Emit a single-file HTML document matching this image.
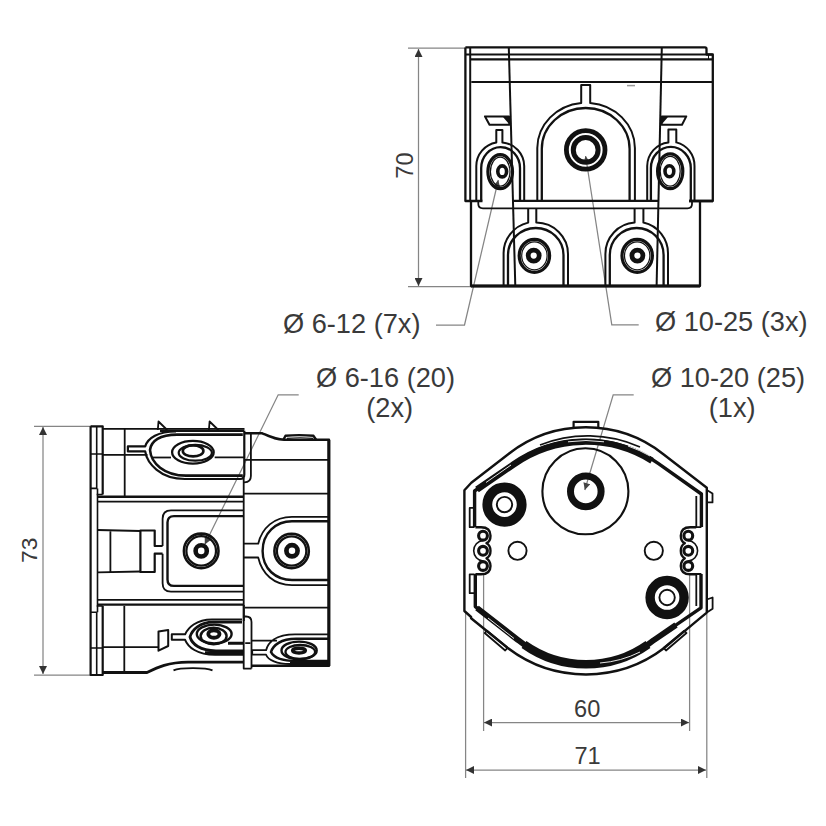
<!DOCTYPE html>
<html><head><meta charset="utf-8">
<style>
html,body{margin:0;padding:0;background:#fff;}
svg{display:block;}
text{font-family:"Liberation Sans",sans-serif;fill:#3a3a3a;}
</style></head><body>
<svg width="826" height="826" viewBox="0 0 826 826">
<defs>
<marker id="ar" viewBox="0 0 10 10" refX="10" refY="5" markerWidth="8" markerHeight="8" orient="auto-start-reverse" markerUnits="userSpaceOnUse"><path d="M0,0 L10,5 L0,10 z" fill="#333"/></marker>
<marker id="la" viewBox="0 0 10 10" refX="10" refY="5" markerWidth="9" markerHeight="7" orient="auto" markerUnits="userSpaceOnUse"><path d="M0,0 L10,5 L0,10 z" fill="#444"/></marker>
</defs>
<!-- dimension lines -->
<g stroke="#858585" stroke-width="1.25" fill="none">
<path d="M408,48H466 M408,286.5H472"/>
<path d="M418.5,49V286" marker-start="url(#ar)" marker-end="url(#ar)"/>
<path d="M34,426.3H92 M34,675H92"/>
<path d="M43,427V674" marker-start="url(#ar)" marker-end="url(#ar)"/>
<path d="M483.6,574V731 M689.6,574V731"/>
<path d="M484,722.6H689" marker-start="url(#ar)" marker-end="url(#ar)"/>
<path d="M465.6,613V778 M706.8,614V778"/>
<path d="M466,770H706" marker-start="url(#ar)" marker-end="url(#ar)"/>
<!-- leaders -->
<path d="M436,325H464.5L498.3,180" marker-end="url(#la)"/>
<path d="M638.7,324.8H611.8L585.6,156" marker-end="url(#la)"/>
<path d="M298.7,394.8H278.2L204.8,544.5" marker-end="url(#la)"/>
<path d="M633.7,394.8H613.2L584.8,490" marker-end="url(#la)"/>
</g>

<g id="topview" fill="none" stroke="#111" stroke-linejoin="round">
 <!-- upper box -->
 <path stroke-width="2.3" d="M465.4,47.4H705 Q706.5,47.4 706.5,49 V54.5 H712.8 V201 H689"/>
 <path stroke-width="2.3" d="M465.4,47.4V201H482.5 M689,201H713"/>
 <path stroke-width="2" d="M470.2,47.5V201"/>
 <path stroke-width="2" d="M465.4,54.5H712.5"/>
 <path stroke-width="2.2" d="M470,59.4H712.5"/>
 <path stroke-width="1" d="M708.5,54.5V59"/>
 <path stroke-width="2" d="M471.3,82H712.5"/>
 <!-- slanted inner walls -->
 <path stroke-width="2" d="M508.8,47.5L515.3,286"/>
 <path stroke-width="2" d="M661.8,47.5L656.6,286"/>
 <!-- band -->
 <path stroke-width="2.3" d="M513.5,200.8H658"/>
 <path stroke-width="1.8" d="M478.3,201.5V204 Q478.3,208.3 483,208.3H687.5 Q692,208.3 692,204 V201"/>
 <!-- lower box -->
 <path stroke-width="2.3" d="M471,201.5V286H700V201"/>
 <path stroke-width="3" d="M471,286H700"/>
 <!-- slots -->
 <path stroke-width="2" d="M485,116.4H509 L509.5,124.7H489.5Z"/>
 <path stroke-width="2" d="M686.3,116.4H661.8 L661.5,124.7H682Z"/>
 <path d="M503,117L509,117L509,124Z" fill="#111" stroke="none"/>
 <path d="M668,117L662,117L662,124Z" fill="#111" stroke="none"/>
 <!-- small arch left -->
 <path stroke-width="2" d="M476.3,200.5V166 A24,24 0 0 1 496.3,142.4 V130 H502.4 V142.4 A24,24 0 0 1 524.2,166 V200.5"/>
 <path stroke-width="2.3" d="M481.2,200.5V168 A19.4,21 0 0 1 520,168 V200.5"/>
 <!-- small arch right -->
 <path stroke-width="2" d="M647.2,200.5V166 A23.6,24 0 0 1 668.4,142.4 V129.5 H676.3 V142.4 A23.6,24 0 0 1 694.5,166 V200.5"/>
 <path stroke-width="2.3" d="M650.9,200.5V168 A19.9,21 0 0 1 690.8,168 V200.5"/>
 <!-- center big arch -->
 <path stroke-width="2" d="M537.3,200.8V148 A48.8,45.5 0 0 1 581.2,102.9 V85.1 H590.2 V102.9 A48.8,45.5 0 0 1 634.9,148 V200.8"/>
 <path stroke-width="2.3" d="M541.8,200.8V149 A43.9,41 0 0 1 629.6,149 V200.8"/>
 <!-- lower arches -->
 <path stroke-width="2" d="M503.6,286V254 A32.2,31.4 0 0 1 528.2,222.6 V208.3 M536.3,208.3 V222.6 A32.2,31.4 0 0 1 568,254 V286"/>
 <path stroke-width="2.3" d="M508,286V255 A27.75,27 0 0 1 563.5,255 V286"/>
 <path stroke-width="2" d="M605.4,286V254 A31.3,31.4 0 0 1 634.6,222.6 V208.3 M643.4,208.3 V222.6 A31.3,31.4 0 0 1 668,254 V286"/>
 <path stroke-width="2.3" d="M609.8,286V255 A26.9,27 0 0 1 663.6,255 V286"/>
 <!-- center hole -->
 <circle cx="585.7" cy="149.9" r="19.3" stroke-width="4.8"/>
 <circle cx="585.7" cy="149.9" r="12.4" stroke-width="5"/>
 <!-- small holes upper -->
 <ellipse cx="500.2" cy="171.7" rx="12.3" ry="17" stroke-width="3.2"/>
 <ellipse cx="500.2" cy="171.7" rx="9.8" ry="14.5" stroke-width="1.2"/>
 <ellipse cx="502.2" cy="171.4" rx="4.4" ry="5.5" stroke-width="3.6"/>
 <ellipse cx="670.2" cy="171.3" rx="12.6" ry="17.4" stroke-width="3.2"/>
 <ellipse cx="670.2" cy="171.3" rx="10" ry="14.9" stroke-width="1.2"/>
 <ellipse cx="669.4" cy="171.3" rx="4.4" ry="5.5" stroke-width="3.6"/>
 <!-- lower holes -->
 <ellipse cx="534.4" cy="255.8" rx="15.2" ry="16.5" stroke-width="3.2"/>
 <ellipse cx="534.4" cy="255.8" rx="12.7" ry="14" stroke-width="1.2"/>
 <circle cx="533.7" cy="255.6" r="5.5" stroke-width="4.8"/>
 <ellipse cx="637.2" cy="255.8" rx="15.2" ry="16.5" stroke-width="3.2"/>
 <ellipse cx="637.2" cy="255.8" rx="12.7" ry="14" stroke-width="1.2"/>
 <circle cx="637.4" cy="255.6" r="5.5" stroke-width="4.8"/>
 <path stroke="#999" stroke-width="1.5" d="M627,85.6H635"/>
</g>

<g id="botview" fill="none" stroke="#111" stroke-linejoin="round">
 <!-- outer contour -->
 <path stroke-width="2.4" d="M464.4,490.2 L471.3,482.8 L508.2,454.2 A125.4,125.4 0 0 1 663.4,454.2 L706.8,487.7 V612.6 L700.1,618.2 L664.5,647.8 A129,129 0 0 1 507.5,647.8 L471.1,618.2 V617 L464.4,611 Z"/>
 <!-- inner contour -->
 <path stroke-width="3.4" d="M474.6,527 V491 L513.5,463.7 A125,125 0 0 1 658.5,463.7 L701.4,494 V527"/>
 <path stroke-width="6.4" d="M477,489.5 L513.5,464.5 A125,125 0 0 1 652,460.8"/>
 <path stroke-width="1.6" d="M540,445 A129,129 0 0 1 640,447"/>
 <path stroke-width="3.4" d="M475.3,574 V606.6 L518.1,640.1 A107,107 0 0 0 653.9,640.1 L701,607.8 V574"/>
 <path stroke-width="5.8" d="M477,608 L518.1,640.1 A107,107 0 0 0 653.9,640.1 L676,625"/>
 <path stroke-width="8.4" d="M524,644.5 A107,107 0 0 0 648,644.5"/>
 <path stroke="#fff" stroke-width="0.9" d="M486,482.5 L511,465 M568,441.8 A127,127 0 0 1 604,441.8 M628,446 A127,127 0 0 1 650,456 M488,618 L514,638.5 M600,663 A107,107 0 0 0 640,652"/>
 <!-- top tab -->
 <path stroke-width="2.2" d="M573.6,427.6 V421.8 H598.3 V427.6"/>
 <!-- side tabs -->
 <path stroke-width="1.8" d="M474.6,507.9 H469.7 V527.2 H474.6 M474.6,574.3 H469.7 V593.2 H474.6"/>
 <path stroke-width="1.8" d="M701.4,574 H696.3 V606 M701.4,527.2 H696.3 V496"/>
 <path stroke-width="1.8" d="M706.8,490 L712.5,493.5 V502.4 L706.8,502.4 M706.8,599.5 L712.6,597.5 V608.8 L706.8,612.6"/>
 <path stroke-width="1.8" d="M484.7,633 L487,630.6 L507.5,647.8 L505.2,650.5 Z M686.5,633 L684.2,630.6 L663.7,647.8 L666,650.5 Z"/>
 <!-- big circle -->
 <circle cx="585.4" cy="491.3" r="43" stroke-width="2.1"/>
 <circle cx="585.8" cy="491.4" r="15.3" stroke-width="7"/>
 <!-- black ring holes -->
 <circle cx="504.5" cy="504.6" r="17.2" stroke-width="9.8"/>
 <circle cx="504.5" cy="504.6" r="7.7" stroke-width="1.9"/>
 <circle cx="667.1" cy="597.5" r="17" stroke-width="9.4"/>
 <circle cx="667.1" cy="597.5" r="7.7" stroke-width="1.9"/>
 <!-- small circles -->
 <circle cx="517.5" cy="550.8" r="9.1" stroke-width="1.9"/>
 <circle cx="653.8" cy="550.8" r="9.1" stroke-width="1.9"/>
 <g stroke-width="3.1">
 <circle cx="483" cy="535.7" r="4.4"/><circle cx="483" cy="550.8" r="4.4"/><circle cx="483" cy="566" r="4.4"/>
 <circle cx="688.3" cy="535.7" r="4.4"/><circle cx="688.3" cy="550.8" r="4.4"/><circle cx="688.3" cy="566" r="4.4"/>
 </g>
 <path stroke-width="2.4" d="M475.4,527.2 H481 C488,527.2 490.5,531 490.5,535.7 C490.5,540 488,542.5 486.5,543.2 C489,544.5 490.5,547 490.5,550.8 C490.5,554.5 489,557 486.5,558.3 C488,559 490.5,562 490.5,566 C490.5,571 488,574.3 481,574.3 H475.4"/>
 <path stroke-width="2.4" d="M696.2,527.2 H690.3 C683.3,527.2 680.8,531 680.8,535.7 C680.8,540 683.3,542.5 684.8,543.2 C682.3,544.5 680.8,547 680.8,550.8 C680.8,554.5 682.3,557 684.8,558.3 C683.3,559 680.8,562 680.8,566 C680.8,571 683.3,574.3 690.3,574.3 H696.2"/>
 <path stroke-width="1.6" d="M483,540.5 A10.3,10.3 0 0 0 483,561"/>
 <path stroke-width="1.6" d="M688.3,540.5 A10.3,10.3 0 0 1 688.3,561"/>
</g>

<g id="sideview" fill="none" stroke="#111" stroke-linejoin="round">
 <!-- flange -->
 <path stroke-width="2.2" d="M90.6,426.3 V675 H102.7 V606 M102.7,494.5 V426.3 H90.6"/>
 <path stroke-width="1.6" d="M96.7,426.3 V488.4 M96.7,612.3 V675 M97.5,488.4 V612.3"/>
 <path stroke-width="1.6" d="M90.6,454 H102.7 M90.6,488.4 H97 M96.7,494.5 H102.7 M96.7,606 H102.7 M90.6,612.3 H97 M90.6,648 H102.7"/>
 <!-- left body top/bottom -->
 <path stroke-width="1.8" d="M102.7,428.8 H244.5"/>
 <path stroke-width="2.6" d="M160,430.8 H244.3"/>
 <path stroke-width="1.8" d="M124.7,428.8 V496 M102.7,454.8 H147.5 M214.7,457.3 H244.3 M244.3,459.8 H329"/>
 <!-- tabs -->
 <path stroke-width="1.8" d="M157.8,430 L158.5,421.5 L167.2,430 M208.9,430 L209.6,421.5 L218.4,430"/>
 <!-- eye 1 -->
 <path stroke-width="2.2" d="M244.3,430.8 V474.5 Q244.3,479 240,479 H185 C160,479 147,463 145.2,451.4 H127.9 V446.3 H145.2 C148,438 158,431.5 176,431.5"/>
 <path stroke-width="2.6" d="M242.8,475.6 H186 C164,475.6 151,463 150,450 C151,441 160,434.6 177,434.6 H242.8"/>
 <path stroke-width="1.8" d="M153,457.5 H171"/>
 <ellipse cx="192.9" cy="452.2" rx="20.8" ry="11.4" stroke-width="2.3"/>
 <ellipse cx="195.3" cy="452.8" rx="16.6" ry="7.9" stroke-width="2.2"/>
 <ellipse cx="193.1" cy="450.9" rx="10.3" ry="5.5" stroke-width="2.6"/>
 <!-- band -->
 <path stroke-width="2.4" d="M97.5,496.8 H243.7 M97.5,604.6 H243.7"/>
 <path stroke-width="1.8" d="M97.5,501.6 H243.7 M97.5,599.8 H243.7"/>
 <!-- rounded rect with hole -->
 <path stroke-width="1.8" d="M243.7,510.3 H171 Q162.6,510.3 162.6,518.7 V546 M162.6,553.7 V583.3 Q162.6,591.7 171,591.7 H243.7"/>
 <path stroke-width="2.4" d="M243.7,516.1 H174 Q167.5,516.1 167.5,522.6 V579.4 Q167.5,585.9 174,585.9 H243.7"/>
 <circle cx="201.2" cy="550.9" r="17.3" stroke-width="2.6"/>
 <circle cx="201.2" cy="550.9" r="14.8" stroke-width="2.2"/>
 <circle cx="201.2" cy="550.9" r="5.6" stroke-width="4.6"/>
 <!-- connector -->
 <path stroke-width="2.2" d="M162.6,546 H154.7 V530.5 H140.4 V572 H154.7 V553.7 H162.6"/>
 <path stroke-width="1.8" d="M97.7,530 L140.4,531 M97.7,572.4 L140.4,571.5 M110.4,530.2 V572.2"/>
 <!-- lower left rect -->
 <path stroke-width="1.8" d="M124.3,606 V672.6 M102.7,647.2 H158.5"/>
 <!-- eye 2 -->
 <path stroke-width="2" d="M243.8,605 V621 M242,619.4 H212 C196,619.4 188,628 185.1,634.3 H171.8 V639.8 H185.1 C188,647 197,654.8 215,654.8 H243"/>
 <path stroke-width="2.8" d="M242,622.2 H213 C200,622.2 192,630 190,637 C192,644 200,650.8 216,650.8 H243"/>
 <path stroke-width="3" d="M205,652.8 H243 M228,643.2 H243"/>
 <ellipse cx="214.2" cy="634" rx="17.4" ry="9.4" stroke-width="2.4"/>
 <ellipse cx="213.6" cy="636" rx="13" ry="8.2" stroke-width="2.4"/>
 <ellipse cx="213.9" cy="634" rx="5.6" ry="3.7" stroke-width="3.9"/>
 <path stroke-width="2" d="M158.5,631.5 L168.2,630 V646 L158.5,650.7 Z"/>
 <!-- bottom contour -->
 <path stroke-width="2.8" d="M102.7,672.5 H147 C158,667 168,662.3 188,662.1 H243.6"/>
 <path stroke-width="1.8" d="M173.5,670.3 C180,667.6 205,667.3 212.5,670.3"/>
 <!-- right body -->
 <path stroke-width="2.4" d="M244.5,433.3 H262.3 C272,437.5 276,439.6 284,439.8 H329 V665.7 H251.5"/>
 <path stroke-width="2.4" d="M283.5,439.5 L285.5,435.8 C293,435 305,435 313.5,435.8 L316,439.5"/>
 <path stroke-width="1.2" d="M287,438.3 C295,437.6 305,437.6 313,438.3"/>
 <path stroke-width="1.8" d="M250.9,433.3 V476 Q250.9,482.3 244.5,482.3 M243.7,478 V668.6 H251.5"/>
 <path stroke-width="1.8" d="M243.7,493.6 H329 M245,607.6 H329"/>
 <!-- D shape -->
 <path stroke-width="1.8" d="M243.7,543.7 H258.2 C262,528 274,516.9 292,516.9 H328.7 M243.7,557.5 H258.2 C262,574 274,585.1 292,585.1 H328.7"/>
 <path stroke-width="2.4" d="M328.7,521.2 H292 C276,521.2 262.6,533 262.6,551 C262.6,569 276,580 292,580 H328.7"/>
 <circle cx="291.6" cy="551" r="17.2" stroke-width="2.6"/>
 <circle cx="291.6" cy="551" r="14.7" stroke-width="2.2"/>
 <circle cx="292" cy="550.8" r="5.6" stroke-width="4.7"/>
 <!-- eye 3 -->
 <path stroke-width="1.8" d="M243.7,616.5 H246 Q251.5,616.5 251.5,622 V668.6 M245.2,643.2 H250.3 M251.5,640.7 H277 M328,634.3 H295 C275,634.3 268,643 266.1,650.2 H252.2 V654.7 H266.1 C268,660 277,664 290,664 H329"/>
 <path stroke-width="2.6" d="M328.7,638.8 H296 C281,638.8 273,645 271,652 C274,658 283,661 296,661 H329"/>
 <ellipse cx="299.1" cy="650.4" rx="17.6" ry="8.8" stroke-width="2.4"/>
 <ellipse cx="300.3" cy="652" rx="14.8" ry="7" stroke-width="2.3"/>
 <ellipse cx="299" cy="650.6" rx="6.4" ry="2.4" stroke-width="3.4"/>
 <path stroke-width="3.2" d="M290,663.5 H329"/>
 <path stroke-width="3" d="M328.8,440 V666"/>
</g>
<g id="texts">
<text x="587.2" y="717.3" font-size="23.6" text-anchor="middle">60</text>
<text x="587.5" y="763.5" font-size="23.6" text-anchor="middle">71</text>
<text transform="translate(412.5,165.5) rotate(-90)" font-size="23.6" text-anchor="middle">70</text>
<text transform="translate(37.4,550.3) rotate(-90)" font-size="22.8" text-anchor="middle">73</text>
<text x="283" y="332.6" font-size="27.2">Ø 6-12 (7x)</text>
<text x="655" y="331.2" font-size="27.2">Ø 10-25 (3x)</text>
<text x="316" y="387.3" font-size="27.2">Ø 6-16 (20)</text>
<text x="366.3" y="417.3" font-size="27.2">(2x)</text>
<text x="651" y="387.3" font-size="27.2">Ø 10-20 (25)</text>
<text x="708.8" y="417.2" font-size="27.2">(1x)</text>
</g>
</svg>
</body></html>
